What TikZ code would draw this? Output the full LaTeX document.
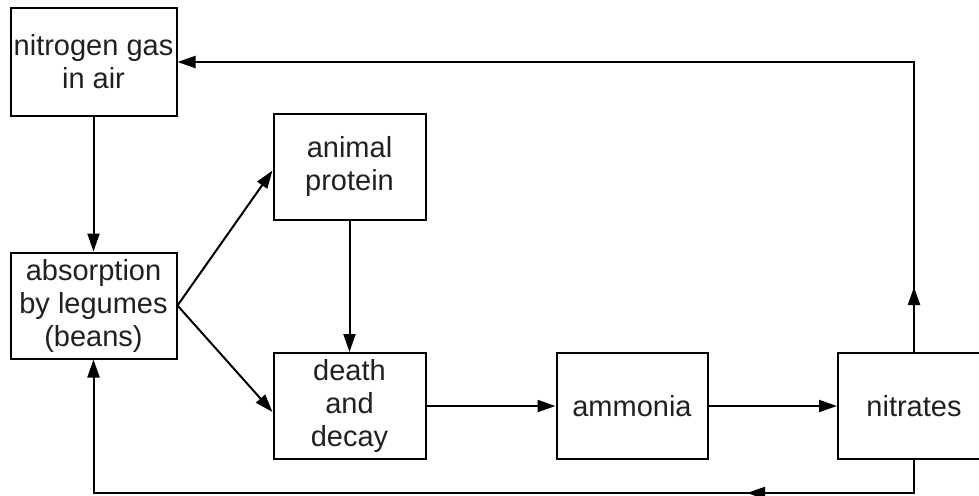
\documentclass[tikz,border=0pt]{standalone}
\usepackage{fontspec}
\setmainfont{Liberation Sans}
\usetikzlibrary{arrows.meta,decorations.markings}
\definecolor{txt}{HTML}{231F20}
\tikzset{
  box/.style={draw=black, line width=2pt, inner sep=0pt, align=center,
    text=txt, font=\fontsize{29}{33}\selectfont},
  conn/.style={line width=2pt, -{Triangle[length=18pt,width=12pt]}},
  midarrow/.style={postaction={decorate}, decoration={markings,
    mark=at position #1 with {\arrow{Triangle[length=18pt,width=12pt]}}}}
}
\begin{document}
\begin{tikzpicture}[x=1pt,y=-1pt]
\useasboundingbox (0,0) rectangle (979,495);
\node[box, minimum width=166pt, minimum height=107pt] (ngas) at (93.5,62) {nitrogen gas\\in air};
\node[box, minimum width=166pt, minimum height=106pt] (abs) at (93.5,305.5) {absorption\\by legumes\\(beans)};
\node[box, minimum width=152pt, minimum height=106pt] (prot) at (349.5,166.5) {animal\\protein};
\node[box, minimum width=152pt, minimum height=106pt] (death) at (349.5,406) {death\\and\\decay};
\node[box, minimum width=151pt, minimum height=106pt] (amm) at (632,406) {ammonia};
\node[box, minimum width=152pt, minimum height=106pt] (nitr) at (914,406) {nitrates};
\coordinate (bot) at (0,493);
\draw[conn] (ngas.south) -- (abs.north);
\draw[conn] (abs.east) -- ([yshift=-4pt]prot.west);
\draw[conn] (abs.east) -- ([yshift=-6pt]death.west);
\draw[conn] (prot.south) -- (death.north);
\draw[conn] (death.east) -- (amm.west);
\draw[conn] (amm.east) -- (nitr.west);
\draw[conn, midarrow=65pt] (nitr.north) -- (nitr.north |- ngas.east) -- (ngas.east);
\draw[conn, midarrow=200pt] (nitr.south) -- (nitr.south |- bot) -- (abs.south |- bot) -- (abs.south);
\end{tikzpicture}
\end{document}
